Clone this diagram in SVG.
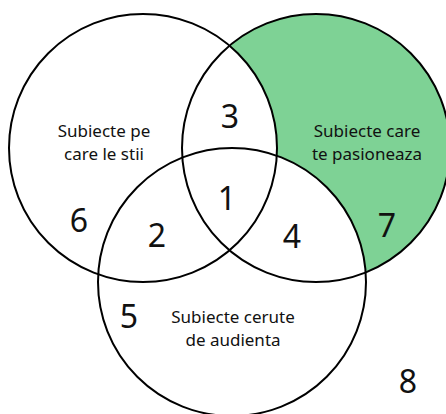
<svg xmlns="http://www.w3.org/2000/svg" width="446" height="414" viewBox="0 0 446 414">
<style>
.ring{fill:none;stroke:#000;stroke-width:2}
.num{font-family:"Noto Sans","Open Sans",sans-serif;font-size:32px;fill:#111;text-anchor:middle}
.lbl{font-family:"Noto Sans","Open Sans",sans-serif;font-size:17px;fill:#111;text-anchor:middle}
</style>
<rect width="446" height="414" fill="#fff"/>
<g id="fills">
<circle cx="316" cy="148" r="134" fill="#7ed295"/>
<circle cx="143" cy="148" r="134" fill="#fff"/>
<circle cx="232" cy="282" r="134" fill="#fff"/>
</g>
<g id="set-known">
<circle class="ring" cx="143" cy="148" r="134"/>
<text class="lbl" x="104" y="137">Subiecte pe</text>
<text class="lbl" x="104" y="160">care le stii</text>
</g>
<g id="set-passion">
<circle class="ring" cx="316" cy="148" r="134"/>
<text class="lbl" x="367" y="137">Subiecte care</text>
<text class="lbl" x="367" y="160">te pasioneaza</text>
</g>
<g id="set-audience">
<circle class="ring" cx="232" cy="282" r="134"/>
<text class="lbl" x="233" y="323">Subiecte cerute</text>
<text class="lbl" x="233" y="346">de audienta</text>
</g>
<g id="numbers">
<text class="num" x="230" y="128">3</text>
<text class="num" x="227" y="210">1</text>
<text class="num" x="79" y="232">6</text>
<text class="num" x="157" y="247">2</text>
<text class="num" x="292" y="248">4</text>
<text class="num" x="387" y="237">7</text>
<text class="num" x="129" y="328">5</text>
<text class="num" x="408" y="393">8</text>
</g>
</svg>
